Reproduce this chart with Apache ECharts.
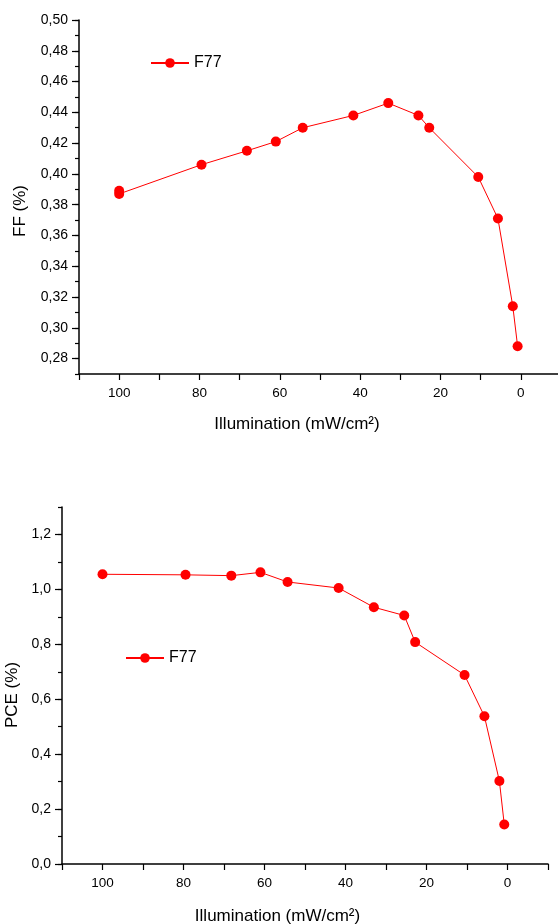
<!DOCTYPE html>
<html>
<head>
<meta charset="utf-8">
<script src="https://cdn.jsdelivr.net/npm/echarts@6/dist/echarts.min.js"></script>
<style>
  html, body { margin: 0; padding: 0; background: #fff; }
  #main { width: 558px; height: 924px; }
</style>
</head>
<body>
<div id="main"></div>
<script>
// illumination levels (mW/cm²), shared by both panels
const illumination = [100, 79.5, 68.2, 61, 54.3, 41.7, 33, 25.5, 22.8, 10.6, 5.7, 2, 0.8]
// FF has an extra repeated measurement at 100
const ffIllumination = [100, 100, 79.5, 68.2, 61, 54.3, 41.7, 33, 25.5, 22.8, 10.6, 5.7, 2, 0.8]
const ff = [0.389, 0.387, 0.406, 0.415, 0.421, 0.430, 0.438, 0.446, 0.438, 0.430, 0.398, 0.371, 0.314, 0.288]
const pce = [1.055, 1.053, 1.050, 1.062, 1.027, 1.005, 0.935, 0.905, 0.808, 0.688, 0.538, 0.302, 0.144]

// tick labels
const illumTicks = [0, 20, 40, 60, 80, 100]
const ffTicks = [0.28, 0.30, 0.32, 0.34, 0.36, 0.38, 0.40, 0.42, 0.44, 0.46, 0.48, 0.50]
const pceTicks = [0, 0.2, 0.4, 0.6, 0.8, 1.0, 1.2]

const font = 'Liberation Sans, Arial, sans-serif'
const red = '#ff0000'

let chart = echarts.init(document.getElementById('main'))

function comma(v, d){
  return v.toFixed(d).replace('.', ',')
}

function xAxisOf(gridIndex, namePad, nameGap){
  return {
    gridIndex: gridIndex,
    type: 'value',
    position: 'bottom',
    min: -10,
    max: 110,
    interval: 10,
    inverse: true,
    name: 'Illumination (mW/cm²)',
    nameLocation: 'middle',
    nameGap: nameGap,
    nameTextStyle: { fontFamily: font, fontSize: 17, color: '#000', padding: [0, namePad, 0, 0] },
    axisLine: { onZero: false, lineStyle: { color: '#000', width: 1.5 } },
    axisTick: { length: 6, lineStyle: { color: '#000', width: 1.2 } },
    axisLabel: {
      customValues: illumTicks,
      margin: 12,
      fontFamily: font, fontSize: 13.5, color: '#000'
    },
    splitLine: { show: false }
  }
}

// minor tick axis (no labels)
function yMinorOf(gridIndex, min, max, step){
  return {
    gridIndex: gridIndex,
    type: 'value',
    position: 'left',
    min: min, max: max, interval: step,
    axisLine: { show: true, onZero: false, lineStyle: { color: '#000', width: 1.5 } },
    axisTick: { show: true, length: 4, lineStyle: { color: '#000', width: 1.2 } },
    axisLabel: { show: false },
    splitLine: { show: false }
  }
}

// major tick axis with labels and title
function yMajorOf(gridIndex, min, max, ticks, digits, name, namePad, nameGap){
  return {
    gridIndex: gridIndex,
    type: 'value',
    position: 'left',
    min: min, max: max,
    name: name,
    nameLocation: 'middle',
    nameRotate: 90,
    nameGap: nameGap,
    nameTextStyle: { fontFamily: font, fontSize: 17, color: '#000', padding: [0, namePad, 0, 0] },
    axisLine: { show: false, onZero: false },
    axisTick: { show: true, length: 7, customValues: ticks, lineStyle: { color: '#000', width: 1.2 } },
    axisLabel: {
      customValues: ticks,
      margin: 11,
      fontFamily: font, fontSize: 14, color: '#000',
      formatter: function(v){ return comma(v, digits) }
    },
    splitLine: { show: false }
  }
}

let option = {
  animation: false,
  backgroundColor: '#fff',
  grid: [
    { left: 79, top: 20, width: 482, height: 354, containLabel: false, outerBoundsMode: 'none' },
    { left: 62, top: 507, width: 486, height: 357, containLabel: false, outerBoundsMode: 'none' }
  ],
  legend: [
    {
      data: ['F77'],
      left: 145, top: 50,
      itemWidth: 38, itemHeight: 12, itemGap: 6,
      textStyle: { fontFamily: font, fontSize: 16, color: '#000' },
      selectedMode: false
    },
    {
      data: ['F77'],
      left: 120, top: 645,
      itemWidth: 38, itemHeight: 12, itemGap: 6,
      textStyle: { fontFamily: font, fontSize: 16, color: '#000' },
      selectedMode: false
    }
  ],
  xAxis: [
    xAxisOf(0, 46, 42),
    xAxisOf(1, 55, 44)
  ],
  yAxis: [
    yMinorOf(0, 0.27, 0.50, 0.01),
    yMajorOf(0, 0.27, 0.50, ffTicks, 2, 'FF (%)', 28, 50),
    yMinorOf(1, 0, 1.3, 0.1),
    yMajorOf(1, 0, 1.3, pceTicks, 1, 'PCE (%)', 19, 38)
  ],
  series: [
    {
      name: 'F77',
      type: 'line',
      xAxisIndex: 0,
      yAxisIndex: 0,
      data: ffIllumination.map((x, i) => [x, ff[i]]),
      symbol: 'circle',
      symbolSize: 10,
      lineStyle: { color: red, width: 1 },
      itemStyle: { color: red },
      clip: false
    },
    {
      name: 'F77',
      type: 'line',
      xAxisIndex: 1,
      yAxisIndex: 2,
      data: illumination.map((x, i) => [x, pce[i]]),
      symbol: 'circle',
      symbolSize: 10,
      lineStyle: { color: red, width: 1 },
      itemStyle: { color: red },
      clip: false
    }
  ]
}
chart.setOption(option)
</script>
</body>
</html>
